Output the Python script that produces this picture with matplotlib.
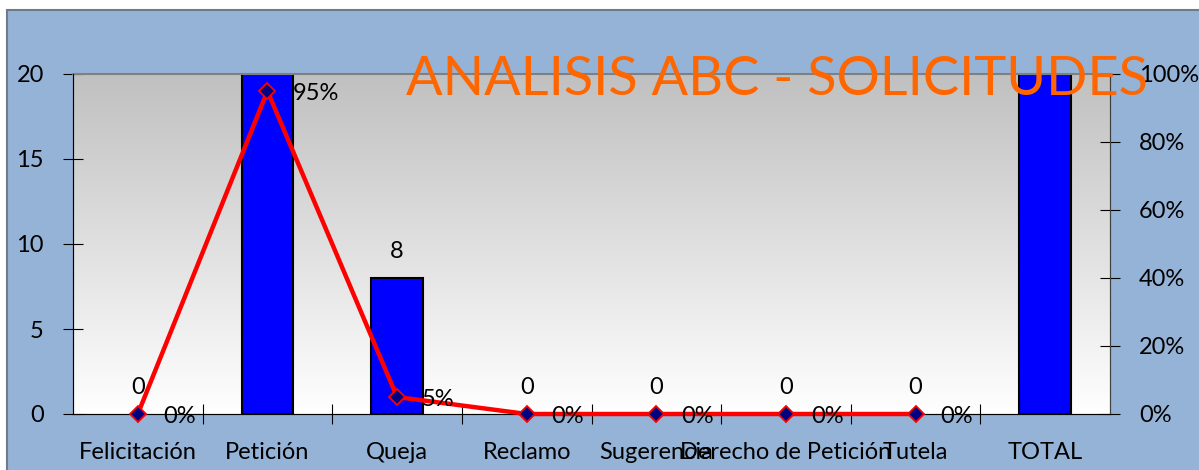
import matplotlib.pyplot as plt
import matplotlib.patches as mpatches
import numpy as np

# datos del analisis
categorias = ['Felicitación', 'Petición', 'Queja', 'Reclamo', 'Sugerencia',
              'Derecho de Petición', 'Tutela', 'TOTAL']
cantidades = [0, 152, 8, 0, 0, 0, 0, 160]
porcentajes = [0.0, 0.95, 0.05, 0.0, 0.0, 0.0, 0.0]
pct_etiquetas = ['0%', '95%', '5%', '0%', '0%', '0%', '0%']

plt.rcParams['font.family'] = ['Lato', 'DejaVu Sans']
fs = 17

fig = plt.figure(figsize=(11.99, 4.70), dpi=100, facecolor='white')
# fondo azul del grafico
fondo = mpatches.Rectangle((7 / 1199, -0.01), 1.0, (470 - 10) / 470 + 0.01,
                           transform=fig.transFigure, facecolor='#95B3D7',
                           edgecolor='#6E7B8B', linewidth=1.5, zorder=-5)
fig.patches.append(fondo)

ax = fig.add_axes([73 / 1199, 56 / 470, (1110 - 73) / 1199, (414 - 74) / 470])
ax.set_facecolor('none')
ax.set_zorder(1)

# degradado gris a blanco
grad = np.linspace(0, 1, 256).reshape(-1, 1)
ax.imshow(grad, cmap=plt.matplotlib.colors.LinearSegmentedColormap.from_list(
    'g', ['#FFFFFF', '#C0C0C0']), extent=[0, 1, 0, 1], transform=ax.transAxes,
    aspect='auto', origin='lower', zorder=0)

x = np.arange(len(categorias))
bordes = [1.5 if v > 0 else 0 for v in cantidades]
ax.bar(x, cantidades, width=0.4, color='#0000FF', edgecolor='black', linewidth=bordes, zorder=2)
ax.set_xlim(-0.5, len(categorias) - 0.5)
ax.set_ylim(0, 20)
ax.set_yticks([0, 5, 10, 15, 20])
ax.tick_params(axis='y', labelsize=fs, direction='inout', length=14, pad=14, colors='black')

for xi, v in zip(x, cantidades):
    if v <= 20:
        ax.annotate(str(v), (xi, v), xytext=(0, 19), textcoords='offset points',
                    ha='center', va='center', fontsize=fs, zorder=5)

ax.set_xticks(x)
ax.set_xticklabels(categorias, fontsize=fs)
ax.set_xticks(np.arange(0.5, len(categorias) - 1, 1), minor=True)
ax.tick_params(axis='x', which='major', length=0, pad=20)
ax.tick_params(axis='x', which='minor', direction='inout', length=14, width=0.8)

for s in ['left', 'bottom']:
    ax.spines[s].set_color('#404040')
ax.spines['top'].set_color('#808080')
ax.spines['top'].set_linewidth(1.5)
ax.spines['right'].set_color('#404040')

ax2 = ax.twinx()
ax2.set_zorder(2)
ax2.plot(x[:len(porcentajes)], porcentajes, color='#FF0000', linewidth=3.2,
         marker='D', markersize=8, markerfacecolor='#000080',
         markeredgecolor='#FF0000', markeredgewidth=1.3, zorder=4, clip_on=False)
ax2.set_ylim(0, 1)
ax2.set_yticks([0, 0.2, 0.4, 0.6, 0.8, 1.0])
ax2.set_yticklabels(['0%', '20%', '40%', '60%', '80%', '100%'])
ax2.tick_params(axis='y', labelsize=fs, direction='inout', length=14, pad=14)
ax2.spines['right'].set_color('#404040')
ax2.spines['top'].set_visible(False)

for xi, p, t in zip(x, porcentajes, pct_etiquetas):
    ax2.annotate(t, (xi, p), xytext=(18, -2), textcoords='offset points',
                 ha='left', va='center', fontsize=fs, zorder=5, annotation_clip=False)

fig.text(777 / 1199, (470 - 95) / 470, 'ANALISIS ABC - SOLICITUDES', color='#FF6600',
         fontsize=39, ha='center', va='baseline',
         family=['Liberation Sans Narrow', 'Lato', 'DejaVu Sans'], zorder=10)

fig.savefig('out.png', dpi=100, facecolor=fig.get_facecolor())
